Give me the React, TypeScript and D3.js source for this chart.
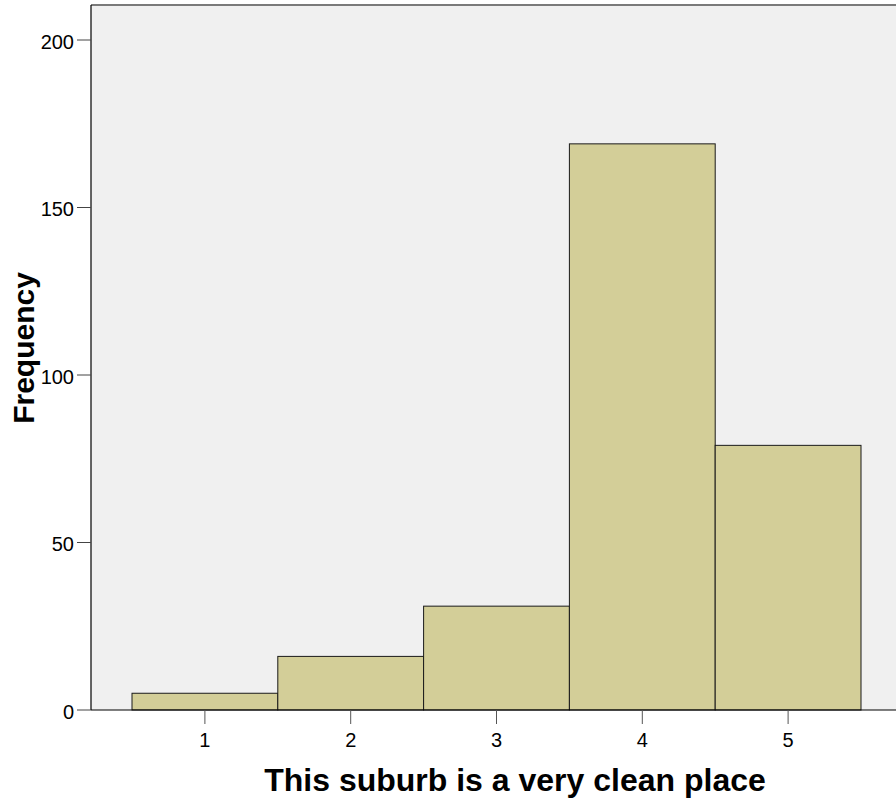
import React from "react";
import * as d3 from "d3";

const categories = [1, 2, 3, 4, 5];
const frequencies = [5, 16, 31, 169, 79];
const yTicks = [0, 50, 100, 150, 200];

export default function App() {
  const W = 896, H = 802;
  const x = d3.scaleLinear().domain([0.5, 5.5]).range([132, 861]);
  const y = d3.scaleLinear().domain([0, 200]).range([710, 40]);
  const plotLeft = 91, plotTop = 5, plotRight = 896, plotBottom = 710;
  const font = "'Liberation Sans', Arial, sans-serif";
  return (
    <svg width={W} height={H} style={{ position: "absolute", left: 0, top: 0 }}>
      <rect x={0} y={0} width={W} height={H} fill="#fff" />
      <rect x={plotLeft} y={plotTop} width={plotRight - plotLeft} height={plotBottom - plotTop} fill="#F0F0F0" />
      <line x1={plotLeft} x2={plotRight} y1={plotTop} y2={plotTop} stroke="#7a7a7a" strokeWidth={2} />
      {categories.map((c, i) => (
        <rect
          key={c}
          x={x(c - 0.5)}
          y={y(frequencies[i])}
          width={x(c + 0.5) - x(c - 0.5)}
          height={y(0) - y(frequencies[i])}
          fill="#D3CE98"
          stroke="#1a1a1a"
          strokeWidth={1}
        />
      ))}
      <line x1={plotLeft} x2={plotLeft} y1={plotTop} y2={plotBottom} stroke="#000" strokeWidth={1.2} />
      <line x1={plotLeft} x2={plotRight} y1={plotBottom} y2={plotBottom} stroke="#000" strokeWidth={1.2} />
      {yTicks.map((t) => (
        <g key={t}>
          <line x1={77} x2={plotLeft} y1={y(t)} y2={y(t)} stroke="#444" strokeWidth={1} />
          <text x={74} y={y(t) + 8.5} textAnchor="end" fontFamily={font} fontSize={20} fill="#000">
            {t}
          </text>
        </g>
      ))}
      {categories.map((c) => (
        <g key={c}>
          <line x1={x(c)} x2={x(c)} y1={plotBottom} y2={724} stroke="#555" strokeWidth={1} />
          <text x={x(c)} y={747} textAnchor="middle" fontFamily={font} fontSize={20} fill="#000">
            {c}
          </text>
        </g>
      ))}
      <text x={515} y={791} textAnchor="middle" fontFamily={font} fontSize={32} fontWeight="bold" fill="#000">
        This suburb is a very clean place
      </text>
      <text
        transform={`translate(34, 348) rotate(-90)`}
        textAnchor="middle"
        fontFamily={font}
        fontSize={30}
        fontWeight="bold"
        fill="#000"
      >
        Frequency
      </text>
    </svg>
  );
}
